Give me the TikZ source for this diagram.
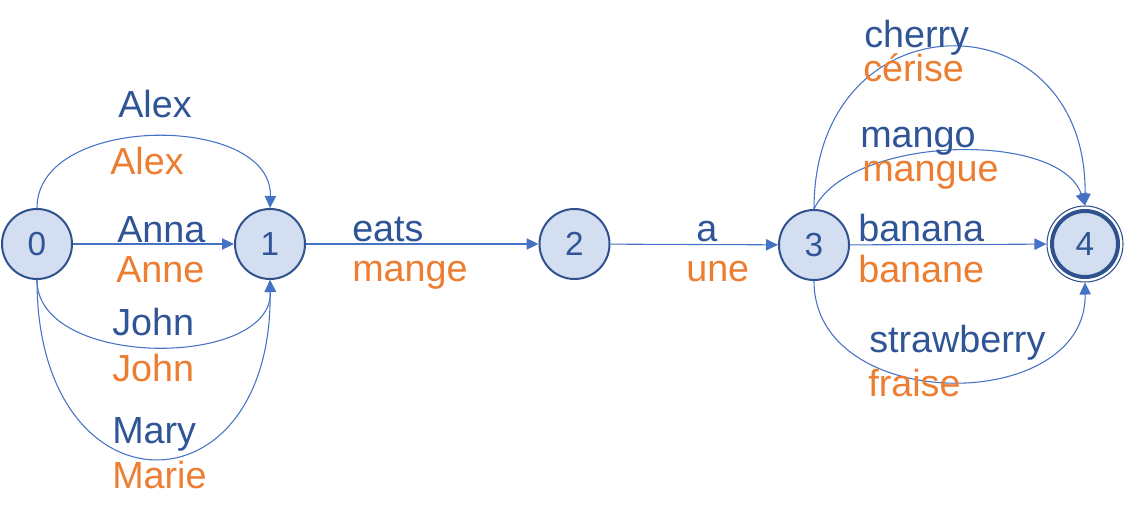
\documentclass[tikz,border=0pt]{standalone}
\usepackage{fontspec}
\setmainfont{Liberation Sans}
\usetikzlibrary{arrows.meta}
\definecolor{txtblue}{HTML}{2F5597}
\definecolor{txtorange}{HTML}{ED7D31}
\definecolor{edgeblue}{HTML}{4472C4}
\definecolor{nodefill}{HTML}{D3DEF1}
\definecolor{nodeline}{HTML}{2F528F}
\tikzset{
  state/.style={circle, draw=nodeline, line width=1.5pt, fill=nodefill, minimum size=52.5pt, inner sep=0pt, text=txtblue, font=\fontsize{25}{27}\selectfont},
  lb/.style={anchor=base west, inner sep=0pt, text=txtblue, font=\fontsize{28.3}{30}\selectfont},
  lo/.style={lb, text=txtorange},
  edge/.style={draw=edgeblue, line width=0.8pt, -{Triangle[length=9pt,width=8.5pt]}}
}
\begin{document}
\begin{tikzpicture}[x=0.75pt,y=-0.75pt]
\useasboundingbox (0,0) rectangle (1125,520);
\node[state] (n0) at (37,244) {0};
\node[state] (n1) at (270,244) {1};
\node[state] (n2) at (574.5,244) {2};
\node[state] (n3) at (814,245) {3};
\node[circle, draw=nodeline, line width=0.8pt, minimum size=57pt, inner sep=0pt] (n4o) at (1085,244) {};
\node[state, line width=3pt, minimum size=49.5pt] (n4) at (1085,244) {4};
% edges
\draw[edge] (n0.north) .. controls (37,113) and (273,113) .. (n1.north);
\draw[edge] (n0) -- (n1);
\draw[edge] (n0.south) .. controls (37,369) and (273,369) .. (n1.south);
\draw[edge] (n0.south) .. controls (37,518) and (273,518) .. (n1.south);
\draw[edge] (n1) -- (n2);
\draw[edge] (n2) -- (n3);
\draw[edge] (n3.north) .. controls (814,-6) and (1087,-6) .. (n4o.north);
\draw[edge] (n3.north) .. controls (850,135) and (1060,130) .. (n4o.north);
\draw[edge] (n3) -- (n4o);
\draw[edge] (n3.south) .. controls (814,415) and (1087,415) .. (n4o.south);
% labels
\node[lb] (l1) at (118,118) {Alex};
\node[lo] (l2) at (110,175) {Alex};
\node[lb] (l3) at (117,243) {Anna};
\node[lo] (l4) at (116,283) {Anne};
\node[lb] (l5) at (112,335) {John};
\node[lo] (l6) at (112,382) {John};
\node[lb] (l7) at (112,443) {Mary};
\node[lo] (l8) at (112,488) {Marie};
\node[lb] (l9) at (352,242) {eats};
\node[lo] (l10) at (352,282) {mange};
\node[lb] (l11) at (696,242) {a};
\node[lo] (l12) at (686,282) {une};
\node[lb] (l13) at (864,48) {cherry};
\node[lo] (l14) at (863,82) {cérise};
\node[lb] (l15) at (860,148) {mango};
\node[lo] (l16) at (862,182) {mangue};
\node[lb] (l17) at (858,242) {banana};
\node[lo] (l18) at (858,283) {banane};
\node[lb] (l19) at (869,353) {strawberry};
\node[lo] (l20) at (868,397) {fraise};
\end{tikzpicture}
\end{document}
